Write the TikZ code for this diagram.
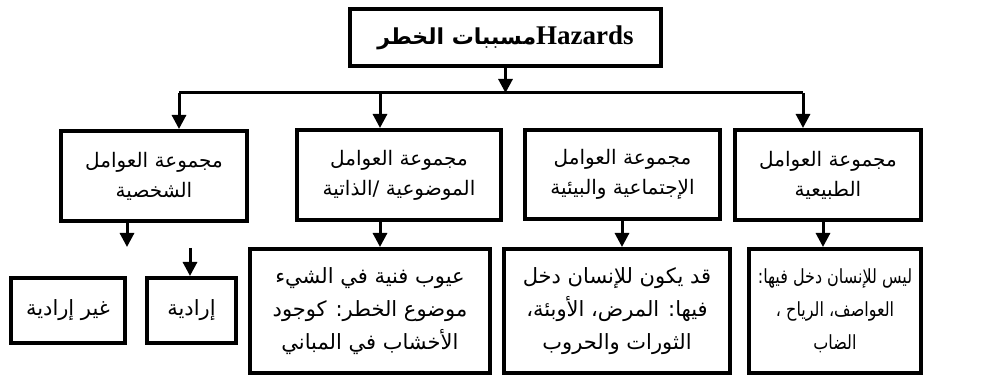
\documentclass[tikz,border=0pt]{standalone}
\usepackage{fontspec}
\setmainfont{Liberation Serif}
\newfontfamily\arabicfont[Script=Arabic]{DejaVu Sans}
\newfontfamily\arabicnarrow[Script=Arabic,FakeStretch=0.82]{DejaVu Sans}
\TeXXeTstate=1
\usetikzlibrary{arrows.meta}
\newcommand\artxt[1]{{\arabicfont\beginR #1\endR}}
\newcommand\artxtn[1]{{\arabicnarrow\beginR #1\endR}}
\begin{document}
\begin{tikzpicture}[x=1pt,y=-1pt,
  box/.style={draw=black,line width=4pt,fill=white,inner sep=0pt,align=center},
  catbox/.style={box,font=\fontsize{20}{30}\selectfont},
  leafbox/.style={box,font=\fontsize{21}{33}\selectfont},
  conn/.style={line width=3pt,-{Triangle[length=14pt,width=14pt]}},
  hline/.style={line width=3pt}]
\useasboundingbox (0,0) rectangle (989,379);
% title
\node[box,minimum width=311pt,minimum height=57pt] (top) at (505.5,38)
  {{\fontsize{22}{26}\selectfont\bfseries\artxt{مسببات الخطر}}{\fontsize{27}{30}\selectfont\bfseries Hazards}};
% categories
\node[catbox,minimum width=186pt,minimum height=90pt] (c1) at (154,176)
  {\artxt{مجموعة العوامل}\\\artxt{الشخصية}};
\node[catbox,minimum width=204pt,minimum height=90pt] (c2) at (399,175)
  {\artxt{مجموعة العوامل}\\\artxt{الموضوعية /الذاتية}};
\node[catbox,minimum width=195pt,minimum height=89pt] (c3) at (622.5,174.5)
  {\artxt{مجموعة العوامل}\\\artxt{الإجتماعية والبيئية}};
\node[catbox,minimum width=186pt,minimum height=90pt] (c4) at (828,175)
  {\artxt{مجموعة العوامل}\\\artxt{الطبيعية}};
% leaves
\node[leafbox,minimum width=114pt,minimum height=65pt] (b1) at (68,310.5)
  {\artxt{غير إرادية}};
\node[leafbox,minimum width=89pt,minimum height=65pt] (b2) at (191.5,310.5)
  {\artxt{إرادية}};
\node[leafbox,minimum width=240pt,minimum height=124pt] (b3) at (370,311)
  {\artxt{عيوب فنية في الشيء}\\\artxt{موضوع الخطر: كوجود}\\\artxt{الأخشاب في المباني}};
\node[leafbox,minimum width=226pt,minimum height=124pt] (b4) at (617,311)
  {\artxt{قد يكون للإنسان دخل}\\\artxt{فيها: المرض، الأوبئة،}\\\artxt{الثورات والحروب}};
\node[leafbox,font=\fontsize{19.5}{33}\selectfont,minimum width=172pt,minimum height=124pt] (b5) at (835,311)
  {\artxtn{ليس للإنسان دخل فيها:}\\\artxtn{العواصف، الرياح ،}\\\artxtn{الضاب}};
% connectors
\coordinate (hl) at (179,93);
\coordinate (hr) at (803,93);
\coordinate (a2) at (380,93);
\coordinate (a3) at (622,93);
\coordinate (a4) at (823,93);
\coordinate (d1) at (127,247);
\coordinate (d2) at (190,248);
\draw[hline] (hl) -- (hr);
\draw[conn] (top.south) -- (top.south |- hl);
\draw[conn] (hl) -- (hl |- c1.north);
\draw[conn] (a2) -- (a2 |- c2.north);
\draw[conn] (hr) -- (hr |- c4.north);
\draw[conn] (d1 |- c1.south) -- (d1);
\draw[conn] (d2) -- (d2 |- b2.north);
\draw[conn] (a2 |- c2.south) -- (a2 |- b3.north);
\draw[conn] (a3 |- c3.south) -- (a3 |- b4.north);
\draw[conn] (a4 |- c4.south) -- (a4 |- b5.north);
\end{tikzpicture}
\end{document}
